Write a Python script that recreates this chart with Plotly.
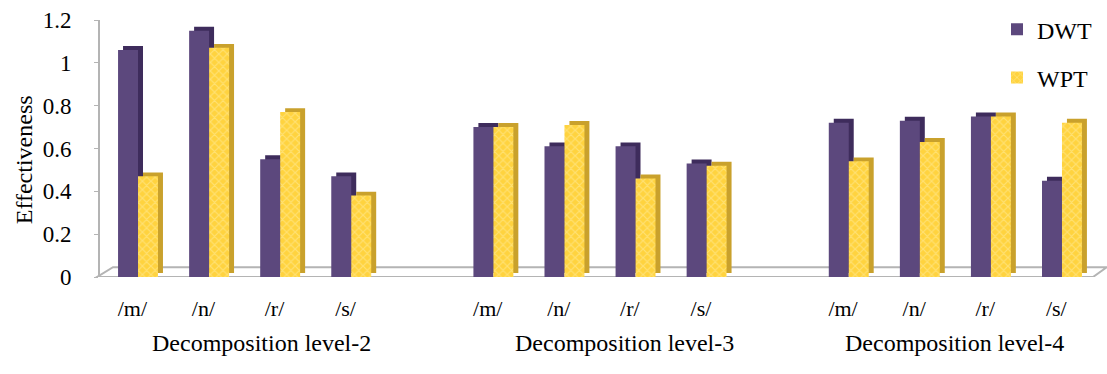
import plotly.graph_objects as go

# Effectiveness of DWT vs WPT per phoneme and decomposition level
groups = ["Decomposition level-2", "Decomposition level-3", "Decomposition level-4"]
phonemes = ["/m/", "/n/", "/r/", "/s/"]
dwt = [1.06, 1.15, 0.55, 0.47,
       0.70, 0.61, 0.61, 0.53,
       0.72, 0.73, 0.75, 0.45]
wpt = [0.47, 1.07, 0.77, 0.38,
       0.70, 0.71, 0.46, 0.52,
       0.54, 0.63, 0.75, 0.72]

FONT = "Liberation Serif"

# slot positions: four phonemes per group, one empty slot between groups
slot = [g * 5 + i for g in range(len(groups)) for i in range(len(phonemes))]
labels = [p for _ in groups for p in phonemes]
caption_x = [1.74, 6.84, 11.49]

bw = 0.281             # width of one column (in slot units)
dx, dy = 0.07, 0.0185  # depth offset for the 3-D look

fig = go.Figure()

# back faces (side / top) drawn first
fig.add_trace(go.Bar(x=slot, y=dwt, base=dy, offset=-bw + dx, width=bw,
                     marker=dict(color="#3E2C5C", line=dict(width=0)),
                     showlegend=False, hoverinfo="skip"))
fig.add_trace(go.Bar(x=slot, y=dwt, offset=-bw, width=bw, name="DWT",
                     marker=dict(color="#5C487D", line=dict(width=0)),
                     legendgroup="a"))
fig.add_trace(go.Bar(x=slot, y=wpt, base=dy, offset=dx, width=bw,
                     marker=dict(color="#C9A12C", line=dict(width=0)),
                     showlegend=False, hoverinfo="skip"))
fig.add_trace(go.Bar(x=slot, y=wpt, offset=0, width=bw, name="WPT",
                     marker=dict(color="#FFD33F", line=dict(width=0),
                                 pattern=dict(shape="x", fgcolor="#FFEFA8",
                                              size=6, solidity=0.35)),
                     legendgroup="b"))

# floor of the chart
fig.add_shape(type="path", xref="paper", yref="y",
              path="M -0.003,0 L 0.993,0 L 1.007,0.046 L 0.013,0.046 Z",
              line=dict(color="#B4B4B4", width=2), layer="below")

# group captions
for cx, name in zip(caption_x, groups):
    fig.add_annotation(x=cx, xref="x", y=-0.315, yref="paper",
                       text=name, showarrow=False,
                       font=dict(family=FONT, size=24, color="black"))

# y axis title
fig.add_annotation(x=-0.091, xref="paper", y=0.545, yref="y",
                   text="Effectiveness", textangle=-90, showarrow=False,
                   font=dict(family=FONT, size=24, color="black"))

fig.update_layout(
    width=1107, height=374, autosize=False,
    margin=dict(l=100, r=7, t=17, b=97),
    barmode="overlay",
    plot_bgcolor="white", paper_bgcolor="white",
    font=dict(family=FONT, color="black"),
    xaxis=dict(range=[-0.535, 13.535], tickvals=[s - 0.08 for s in slot],
               ticktext=labels, showgrid=False, zeroline=False,
               showline=False, ticks="outside", ticklen=12,
               tickcolor="rgba(0,0,0,0)",
               tickfont=dict(family=FONT, size=22, color="black")),
    yaxis=dict(range=[0, 1.2], dtick=0.2, showgrid=False, zeroline=False,
               showline=True, linecolor="#B4B4B4", linewidth=2,
               ticks="outside", ticklen=4, tickcolor="#B4B4B4",
               ticklabelstandoff=18,
               tickfont=dict(family=FONT, size=23, color="black")),
    legend=dict(x=0.897, y=1.05, xanchor="left", yanchor="top",
                tracegroupgap=14, itemwidth=30,
                font=dict(family=FONT, size=24, color="black"),
                bgcolor="rgba(0,0,0,0)"),
)

fig.write_html("out.html")
